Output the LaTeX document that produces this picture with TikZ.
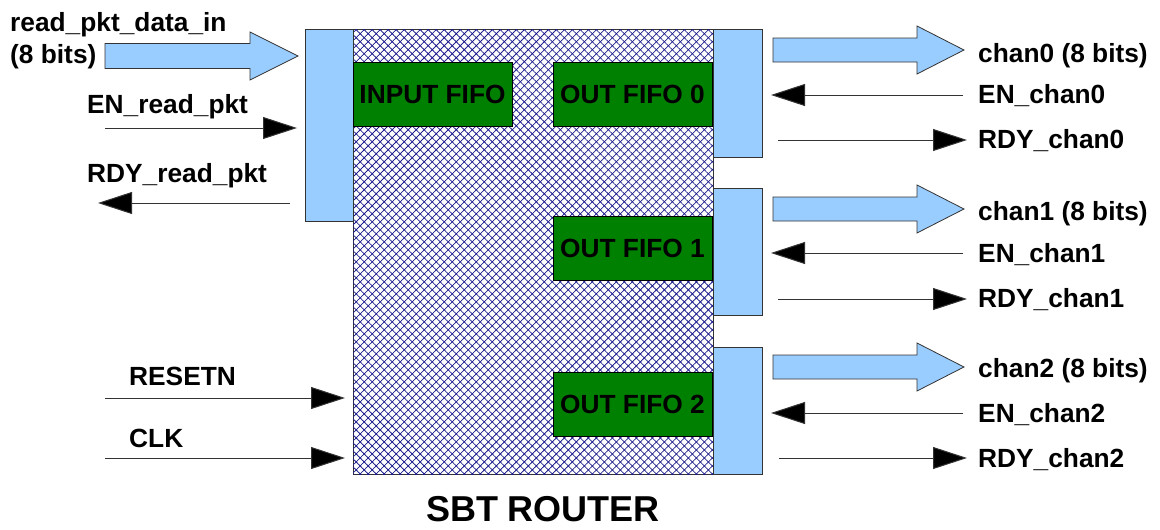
\documentclass[tikz,border=0pt]{standalone}
\usepackage{fontspec}
\setmainfont{Liberation Sans}
\usetikzlibrary{arrows.meta,patterns.meta}
\definecolor{barblue}{HTML}{99CCFF}
\definecolor{fifogreen}{HTML}{008000}
\definecolor{hatchblue}{HTML}{1A1A8C}
\definecolor{edge}{HTML}{333333}
\tikzset{
  lbl/.style={inner sep=0pt, anchor=base west, font=\fontsize{26.3pt}{30pt}\selectfont\bfseries},
  bar/.style={draw=edge, line width=1pt, fill=barblue, inner sep=0pt},
  fifo/.style={draw=black, line width=1pt, fill=fifogreen, inner sep=0pt,
    minimum width=159pt, minimum height=64pt, font=\fontsize{26.3pt}{30pt}\selectfont\bfseries},
  body/.style={draw=edge, line width=1pt, fill=white, inner sep=0pt,
    postaction={pattern={Lines[angle=45,distance=5.66pt,line width=0.75pt]}, pattern color=hatchblue},
    postaction={pattern={Lines[angle=-45,distance=5.66pt,line width=0.75pt]}, pattern color=hatchblue}},
  sig/.style={draw=edge, line width=1pt, -{Triangle[length=34pt,width=22pt,fill=black]}},
  fat/.style={draw=edge, line width=0.8pt, fill=barblue},
}
\begin{document}
\begin{tikzpicture}[x=1pt,y=-1pt]
\useasboundingbox (0,0) rectangle (1160,530);

% router body
\node[body, minimum width=360pt, minimum height=445pt] (router) at (533,251.5) {};
% interface bars
\node[bar, minimum width=48pt, minimum height=192pt] (lbar) at (329,125) {};
\node[bar, minimum width=49pt, minimum height=128pt] (bar0) at (737.5,93) {};
\node[bar, minimum width=49pt, minimum height=127pt] (bar1) at (737.5,251.5) {};
\node[bar, minimum width=49pt, minimum height=127pt] (bar2) at (737.5,410.5) {};
% fifos
\node[fifo] (infifo) at (432.5,94) {INPUT FIFO};
\node[fifo] (ofifo0) at (632.5,94) {OUT FIFO 0};
\node[fifo] (ofifo1) at (632.5,248) {OUT FIFO 1};
\node[fifo] (ofifo2) at (632.5,404) {OUT FIFO 2};

% labels left
\node[lbl] (ldata) at (10,31) {read\_pkt\_data\_in};
\node[lbl] (ldata2) at (10,63) {(8 bits)};
\node[lbl] (len) at (87,113) {EN\_read\_pkt};
\node[lbl] (lrdy) at (87,182) {RDY\_read\_pkt};
\node[lbl] (lrst) at (129,385) {RESETN};
\node[lbl] (lclk) at (129,447) {CLK};
% labels right
\node[lbl] (c0) at (978,62) {chan0 (8 bits)};
\node[lbl] (e0) at (978,103) {EN\_chan0};
\node[lbl] (r0) at (978,148) {RDY\_chan0};
\node[lbl] (c1) at (978,220) {chan1 (8 bits)};
\node[lbl] (e1) at (978,262) {EN\_chan1};
\node[lbl] (r1) at (978,307) {RDY\_chan1};
\node[lbl] (c2) at (978,377) {chan2 (8 bits)};
\node[lbl] (e2) at (978,422) {EN\_chan2};
\node[lbl] (r2) at (978,467) {RDY\_chan2};
% title
\node[inner sep=0pt, anchor=base, font=\fontsize{36pt}{40pt}\selectfont\bfseries] (title) at (543,521) {SBT ROUTER};

% fat data arrows
\draw[fat] (105,43.5) -- (250,43.5) -- (250,32) -- (298,56) -- (250,80) -- (250,68.5) -- (105,68.5) -- cycle;
\foreach \cy in {50,209,367}{
  \draw[fat] (773,\cy-12) -- (917,\cy-12) -- (917,\cy-24) -- (964,\cy) -- (917,\cy+24) -- (917,\cy+12) -- (773,\cy+12) -- cycle;
}

% signal endpoints
\coordinate (enA) at (105,128);  \coordinate (enB) at (297,128);
\coordinate (rdA) at (290,203);  \coordinate (rdB) at (98,203);
\coordinate (rsA) at (105,398);  \coordinate (rsB) at (345,398);
\coordinate (ckA) at (105,458);  \coordinate (ckB) at (345,458);
\coordinate (e0A) at (963,95);   \coordinate (e0B) at (771,95);
\coordinate (r0A) at (778,140);  \coordinate (r0B) at (967,140);
\coordinate (e1A) at (963,253);  \coordinate (e1B) at (771,253);
\coordinate (r1A) at (778,299);  \coordinate (r1B) at (967,299);
\coordinate (e2A) at (963,413);  \coordinate (e2B) at (771,413);
\coordinate (r2A) at (779,458);  \coordinate (r2B) at (967,458);

\draw[sig] (enA) -- (enB);
\draw[sig] (rdA) -- (rdB);
\draw[sig] (rsA) -- (rsB);
\draw[sig] (ckA) -- (ckB);
\draw[sig] (e0A) -- (e0B);
\draw[sig] (r0A) -- (r0B);
\draw[sig] (e1A) -- (e1B);
\draw[sig] (r1A) -- (r1B);
\draw[sig] (e2A) -- (e2B);
\draw[sig] (r2A) -- (r2B);
\end{tikzpicture}
\end{document}
